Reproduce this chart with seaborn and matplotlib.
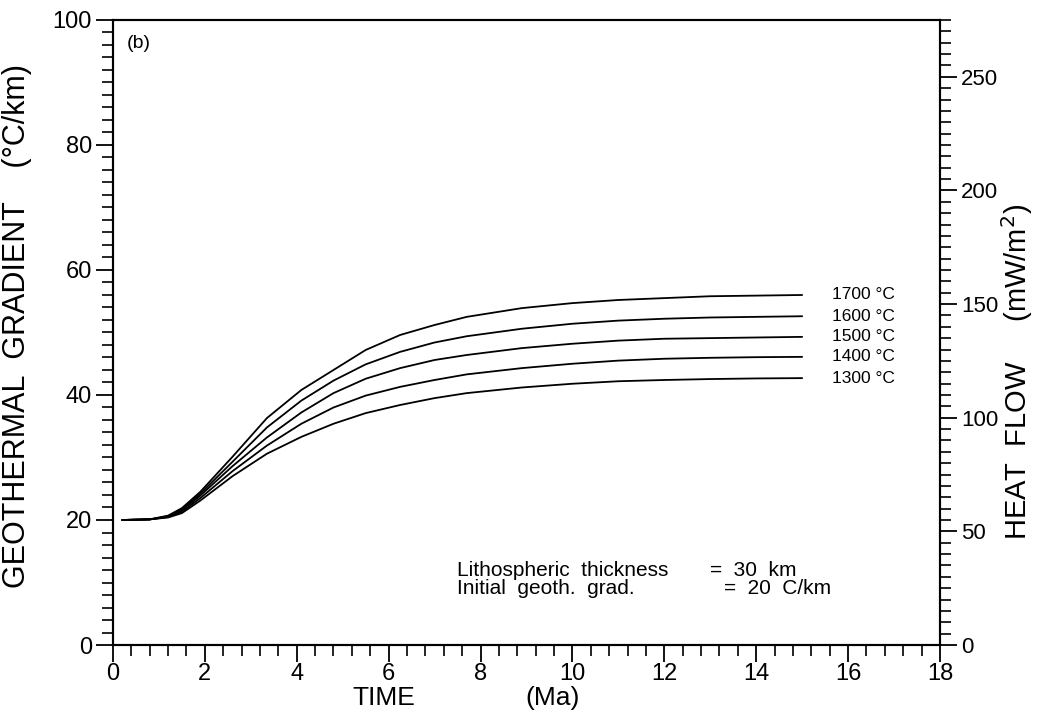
import matplotlib
matplotlib.use("Agg")
import matplotlib.pyplot as plt
from matplotlib.ticker import MultipleLocator
import seaborn as sns
import pandas as pd

# ---- data ----
time_ma = [0.2, 0.8, 1.2, 1.5, 1.9, 2.6, 3.35, 4.1, 4.8, 5.5, 6.25, 7.0, 7.7, 8.9, 10, 11, 12, 13, 14, 15]
grad_1700 = [20.0, 20.1, 20.7, 21.9, 24.5, 30.1, 36.3, 40.8, 44.0, 47.2, 49.6, 51.2, 52.5, 53.9, 54.7, 55.2, 55.5, 55.8, 55.9, 56.0]
grad_1600 = [20.0, 20.1, 20.6, 21.7, 24.2, 29.3, 34.8, 39.1, 42.3, 44.9, 46.9, 48.4, 49.4, 50.6, 51.4, 51.9, 52.2, 52.4, 52.5, 52.6]
grad_1500 = [20.0, 20.1, 20.5, 21.5, 23.9, 28.6, 33.2, 37.2, 40.3, 42.6, 44.3, 45.6, 46.4, 47.5, 48.2, 48.7, 49.0, 49.1, 49.2, 49.3]
grad_1400 = [20.0, 20.1, 20.5, 21.3, 23.5, 27.8, 31.9, 35.4, 38.0, 39.9, 41.3, 42.4, 43.3, 44.3, 45.0, 45.5, 45.8, 45.95, 46.05, 46.1]
grad_1300 = [20.0, 20.1, 20.4, 21.1, 23.1, 27.0, 30.6, 33.3, 35.4, 37.1, 38.4, 39.5, 40.3, 41.2, 41.8, 42.2, 42.4, 42.55, 42.65, 42.7]
temps = ["1700", "1600", "1500", "1400", "1300"]
series = [grad_1700, grad_1600, grad_1500, grad_1400, grad_1300]
x_ticks = [0, 2, 4, 6, 8, 10, 12, 14, 16, 18]
y_ticks = [0, 20, 40, 60, 80, 100]
hf_ticks = [0, 50, 100, 150, 200, 250]

rows = []
for t, vals in zip(temps, series):
    for tm, v in zip(time_ma, vals):
        rows.append({"time": tm, "grad": v, "temp": t})
df = pd.DataFrame(rows)

sns.set_style("ticks")
plt.rcParams["font.family"] = ["Liberation Sans", "DejaVu Sans"]
for k in ["text.color", "axes.labelcolor", "xtick.color", "ytick.color", "axes.edgecolor"]:
    plt.rcParams[k] = "black"

fig = plt.figure(figsize=(10.42, 7.21), dpi=100)
ax = fig.add_axes([0.1084, 0.1054, 0.7937, 0.8669])

sns.lineplot(data=df, x="time", y="grad", hue="temp", hue_order=temps,
             palette=["black"] * 5, linewidth=1.3, legend=False, ax=ax, sort=False)

ax.set_xlim(0, 18)
ax.set_ylim(0, 100)
ax.set_xticks(x_ticks)
ax.set_yticks(y_ticks)
ax.xaxis.set_minor_locator(MultipleLocator(0.4))
ax.yaxis.set_minor_locator(MultipleLocator(2))
ax.tick_params(axis="both", which="major", direction="out", length=12, width=1.3)
ax.tick_params(axis="both", which="minor", direction="out", length=8, width=1.2)
ax.tick_params(axis="x", which="major", labelsize=17, pad=1)
ax.tick_params(axis="y", which="major", labelsize=17, pad=3)
for sp in ax.spines.values():
    sp.set_linewidth(1.5)

ax.set_xlabel("TIME", fontsize=19)
ax.xaxis.set_label_coords(0.328, -0.066)
ax.xaxis.label.set_va("top")
ax.text(0.531, -0.066, "(Ma)", fontsize=19, ha="center", va="top", transform=ax.transAxes)
ax.set_ylabel("GEOTHERMAL  GRADIENT    (°C/km)", fontsize=22)
ax.yaxis.set_label_coords(-0.098, 0.51)

ax2 = ax.twinx()
ax2.set_ylim(0, 275)
ax2.set_yticks(hf_ticks)
ax2.yaxis.set_minor_locator(MultipleLocator(5))
ax2.tick_params(axis="y", which="major", direction="out", length=12, width=1.3, labelsize=16, pad=3)
ax2.tick_params(axis="y", which="minor", direction="out", length=8, width=1.2)
for sp in ax2.spines.values():
    sp.set_linewidth(1.5)
ax2.set_ylabel("HEAT  FLOW     (mW/m$^2$)", fontsize=21)
ax2.yaxis.set_label_coords(1.072, 0.437)

for t, vals in zip(temps, series):
    ax.text(15.65, vals[-1], f"{t} °C", fontsize=12.5, va="center", ha="left")

ax.text(0.3, 96.3, "(b)", fontsize=14, va="center", ha="left")
ax.text(7.49, 12.0, "Lithospheric  thickness", fontsize=15, va="center", ha="left")
ax.text(7.49, 9.1, "Initial  geoth.  grad.", fontsize=15, va="center", ha="left")
ax.text(13.0, 12.0, "=  30  km", fontsize=15, va="center", ha="left")
ax.text(13.3, 9.1, "=  20  C/km", fontsize=15, va="center", ha="left")

fig.savefig("out.png", dpi=100)
